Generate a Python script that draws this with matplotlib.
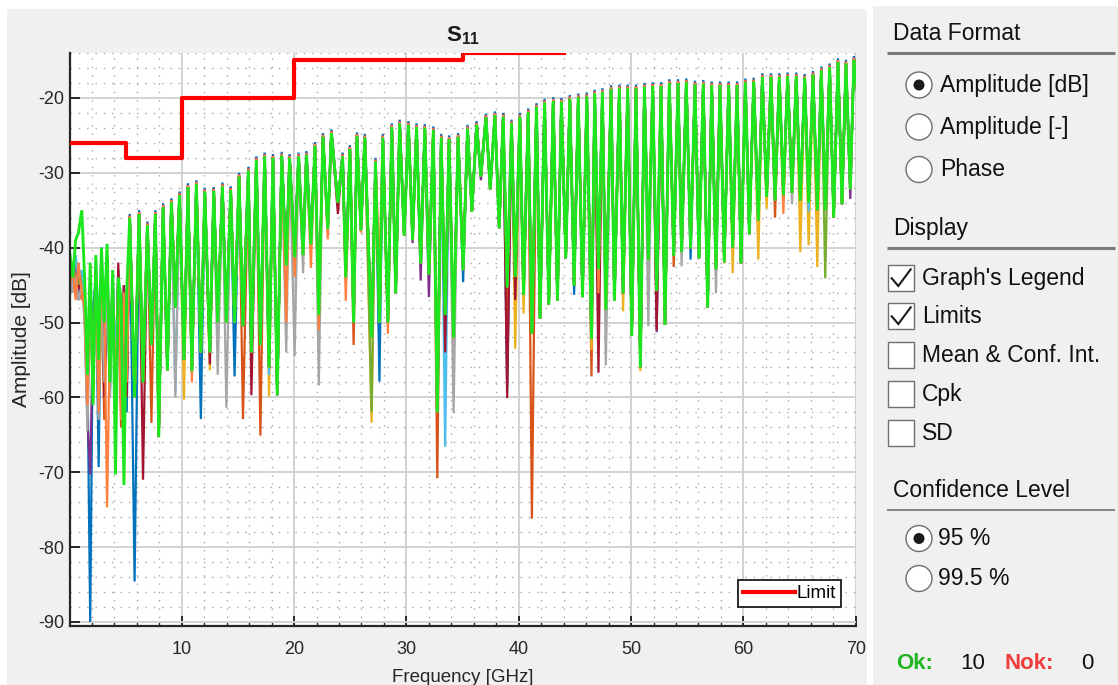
#!/usr/bin/env python3
"""
s11_amplitude.py - S11 amplitude sweep (10 samples) with limit mask and the display options panel
"""

import matplotlib
matplotlib.use('Agg')
import matplotlib.pyplot as plt
from matplotlib import font_manager
from matplotlib.lines import Line2D
from matplotlib.patches import Rectangle, Circle
from matplotlib.ticker import MultipleLocator
import numpy as np

# ---------------------------------------------------------------- data
# low band (below ~5 GHz) where the samples diverge, one list per sample
low_f = [0.05, 0.30, 0.55, 0.80, 1.10, 1.35, 1.60, 1.85, 2.10, 2.35, 2.60,
         2.85, 3.10, 3.35, 3.60, 3.85, 4.10, 4.35, 4.60, 4.85, 5.10]
low_blue = [-43, -46, -41, -47, -44, -47, -56, -90, -48, -44, -69.3,
            -40, -52, -41, -60, -44, -58, -43, -56, -48, -62]
low_orange = [-44, -42, -45, -44, -47, -45, -62, -47, -60, -43, -57,
              -46, -63, -47, -55, -45, -61, -46, -64, -47, -59]
low_yellow = [-42, -45, -43, -46, -45, -48, -58, -46, -55, -44, -59,
              -45, -56, -44, -53, -46, -57, -45, -60, -46, -55]
low_purple = [-43, -44, -42, -46, -44, -49, -63, -70.3, -50, -45, -60,
              -44, -58, -45, -56, -44, -59, -47, -57, -45, -58]
low_olive = [-42, -46, -44, -45, -43, -48, -57, -45, -58, -43, -54,
             -45, -57, -43, -59, -45, -55, -44, -61, -46, -57]
low_lightblue = [-42, -45, -41, -44, -43, -46, -54, -44, -57, -41.8, -50,
                 -41, -55, -42, -57, -43, -56, -44, -55, -45, -58]
low_darkred = [-44, -43, -46, -45, -46, -47, -60, -46, -57, -43, -58,
               -42, -60, -41, -56, -46, -62, -42, -58, -45, -60]
low_gray = [-43, -46, -44, -47, -45, -50, -64.5, -47, -60, -45, -63,
            -46, -58, -45, -60, -47, -57, -46, -59, -47, -56]
low_coral = [-45, -43, -47, -42, -46, -48, -61, -46, -58, -44, -62,
             -45, -46, -74.7, -52, -46, -60, -45, -63, -46, -58]
low_green = [-41, -44, -39, -38, -35, -44, -57, -42, -61, -41, -55,
             -40, -50, -39.5, -58, -43, -70.3, -44, -47, -71.7, -46]

# standing-wave ripple above 5 GHz: ripple maxima and the minima between them
peak_f = [5.37, 6.20, 6.94, 7.65, 8.34, 9.08, 9.80, 10.55, 11.30,
          12.05, 12.85, 13.62, 14.36, 15.10, 15.93, 16.64, 17.38, 18.12, 18.90,
          19.60, 20.40, 21.10, 21.86, 22.57, 23.32, 24.32, 24.97, 25.60, 26.30,
          27.25, 27.90, 28.70, 29.40, 30.18, 30.90, 31.64, 32.40, 33.10, 33.80,
          34.60, 35.44, 36.25, 37.08, 37.88, 38.62, 39.36, 40.10, 40.84, 41.58,
          42.30, 43.07, 43.80, 44.55, 45.30, 46.06, 46.76, 47.45, 48.22, 48.96,
          49.70, 50.44, 51.19, 51.93, 52.67, 53.41, 54.18, 54.92, 55.69, 56.43,
          57.18, 57.92, 58.69, 59.44, 60.18, 60.92, 61.69, 62.46, 63.20, 63.94,
          64.71, 65.46, 66.20, 66.94, 67.68, 68.42, 69.13, 69.84]
peak_db = [-36.0, -35.5, -37.0, -35.5, -34.6, -33.9, -33.0, -31.9, -31.5,
           -32.5, -32.4, -31.8, -32.3, -30.5, -29.7, -28.3, -27.8, -28.0, -27.7,
           -28.0, -27.8, -27.6, -26.4, -25.2, -24.7, -27.8, -26.8, -25.1, -25.3,
           -28.5, -25.3, -23.9, -23.4, -23.6, -23.9, -24.0, -24.3, -25.3, -25.5,
           -25.2, -24.1, -23.6, -22.6, -22.3, -22.5, -23.4, -22.5, -21.9, -21.2,
           -20.6, -20.4, -20.5, -20.1, -19.9, -19.8, -19.4, -19.2, -18.8, -18.7,
           -18.7, -18.7, -18.5, -18.4, -18.4, -18.0, -18.0, -17.9, -18.2, -18.1,
           -18.3, -18.3, -18.3, -18.3, -17.9, -17.8, -17.2, -17.2, -17.2, -17.1,
           -17.1, -17.3, -16.9, -16.3, -15.9, -15.2, -15.4, -14.9]
dip_f = [5.80, 6.55, 7.30, 7.95, 8.72, 9.43, 10.20, 10.90, 11.70,
         12.50, 13.20, 13.97, 14.70, 15.45, 16.20, 17.00, 17.77, 18.50, 19.30,
         20.05, 20.80, 21.50, 22.20, 23.00, 23.90, 24.60, 25.30, 25.95, 26.90,
         27.60, 28.35, 29.05, 29.80, 30.55, 31.27, 32.00, 32.75, 33.45, 34.20,
         35.05, 35.83, 36.63, 37.46, 38.26, 38.97, 39.69, 40.43, 41.17, 41.90,
         42.68, 43.45, 44.19, 44.93, 45.68, 46.48, 47.10, 47.75, 48.52, 49.29,
         50.06, 50.83, 51.54, 52.28, 53.02, 53.80, 54.50, 55.30, 56.05, 56.82,
         57.56, 58.30, 59.05, 59.79, 60.53, 61.33, 62.07, 62.82, 63.56, 64.33,
         65.07, 65.81, 66.58, 67.29, 68.04, 68.78, 69.52]
dip_db = [-60.0, -58.0, -53.0, -65.3, -56.4, -48.0, -55.0, -56.5, -54.0,
          -54.0, -50.0, -50.0, -50.0, -50.5, -54.0, -53.0, -56.0, -59.7, -42.4,
          -41.3, -41.0, -39.6, -49.0, -37.5, -34.0, -44.0, -50.0, -37.7, -52.0,
          -50.0, -50.0, -46.1, -38.4, -39.0, -42.1, -43.6, -62.0, -49.0, -52.0,
          -43.0, -35.2, -30.5, -32.2, -37.4, -45.3, -43.9, -46.3, -51.5, -49.5,
          -47.6, -47.1, -41.4, -45.1, -46.6, -52.2, -42.9, -48.3, -47.1, -46.1,
          -51.8, -56.0, -41.6, -45.8, -50.3, -41.1, -40.6, -40.1, -41.4, -48.0,
          -42.9, -41.9, -40.0, -42.1, -38.2, -36.4, -33.2, -33.7, -33.0, -32.7,
          -33.7, -34.0, -35.0, -35.0, -36.0, -34.2, -32.2]
end_f, end_db = 70.2, -20.0

# samples whose minima go deeper than the common curve
dips_blue = [(5.80, -84.6), (11.70, -62.9), (14.70, -57.2), (27.60, -57.9),
             (35.05, -44.6), (38.97, -59.0), (44.93, -46.3), (55.30, -41.6)]
dips_orange = [(7.30, -63.4), (15.45, -62.9), (17.00, -65.1), (25.30, -53.0),
               (32.75, -70.8), (34.20, -54.5), (38.97, -51.0), (41.17, -76.2),
               (46.48, -57.2), (53.80, -42.6), (62.82, -36.0)]
dips_yellow = [(10.20, -60.3), (12.50, -56.4), (17.77, -59.9), (26.90, -63.4),
               (39.69, -53.5), (40.43, -48.8), (46.48, -53.7), (49.29, -48.5),
               (50.83, -56.5), (59.05, -43.4), (61.33, -41.6), (62.07, -34.8),
               (65.07, -40.6), (65.81, -39.7), (66.58, -42.6)]
dips_purple = [(30.55, -39.4), (31.27, -44.4), (32.00, -46.6), (36.63, -31.0),
               (52.28, -51.3), (69.52, -33.5)]
dips_olive = [(26.90, -62.0), (58.30, -42.1), (67.29, -44.1)]
dips_lightblue = [(9.43, -59.4), (17.77, -57.0), (33.45, -66.6), (65.81, -35.2)]
dips_darkred = [(6.55, -71.0), (12.50, -55.6), (16.20, -59.7), (23.90, -35.5),
                (33.45, -54.0), (38.97, -60.1), (39.69, -47.0), (47.10, -56.7),
                (52.28, -51.0)]
dips_gray = [(9.43, -60.0), (13.20, -57.0), (13.97, -61.4), (19.30, -54.0),
             (20.05, -54.5), (20.80, -43.4), (22.20, -58.4), (34.20, -62.1),
             (47.75, -55.7), (51.54, -50.5), (54.50, -42.5), (57.56, -46.1),
             (64.33, -34.2)]
dips_coral = [(10.90, -58.0), (19.30, -50.0), (20.05, -43.9), (21.50, -42.7),
              (22.20, -51.0), (23.00, -38.9), (24.60, -47.1), (25.95, -38.0),
              (27.60, -43.0), (28.35, -51.5), (47.10, -46.1), (63.56, -35.5)]

# small offset of each sample's ripple maxima above the common curve [dB]
peak_lift = [0.5, 0.2, 0.15, 0.3, 0.0, 0.15, 0.15, 0.0, 0.25, 0.0]

# limit mask: band edges [GHz] and level per band [dB]
limit_edges = [0, 5, 10, 20, 35, 44]
limit_levels = [-26, -28, -20, -15, -14]

ok_count, nok_count = 10, 0

# ---------------------------------------------------------------- fonts
names = {f.name for f in font_manager.fontManager.ttflist}
SANS = 'Liberation Sans'
NARROW = 'Liberation Sans Narrow' if 'Liberation Sans Narrow' in names else None
plt.rcParams['font.family'] = [SANS, 'DejaVu Sans']
plt.rcParams['axes.unicode_minus'] = False
plt.rcParams['mathtext.fontset'] = 'custom'
plt.rcParams['mathtext.rm'] = (NARROW or SANS)
plt.rcParams['mathtext.bf'] = (NARROW or SANS) + ':bold'

PANEL = '#F0F0F0'
TRACE_COLORS = ['#0072BD', '#D95319', '#EDB120', '#7E2F8E', '#77AC30',
                '#4DBEEE', '#A2142F', '#A6A6A6', '#FF7F3F', '#1EE61E']

low_sets = [low_blue, low_orange, low_yellow, low_purple, low_olive,
            low_lightblue, low_darkred, low_gray, low_coral, low_green]
dip_sets = [dips_blue, dips_orange, dips_yellow, dips_purple, dips_olive,
            dips_lightblue, dips_darkred, dips_gray, dips_coral, []]


def build_trace(low_vals, deep, lift):
    dips = np.array(dip_db, dtype=float)
    for f0, d0 in deep:
        dips[np.argmin(np.abs(np.array(dip_f) - f0))] = d0
    f = list(low_f)
    db = list(low_vals)
    for i in range(len(peak_f)):
        f.append(peak_f[i])
        db.append(peak_db[i] + lift)
        if i < len(dip_f):
            f.append(dip_f[i])
            db.append(dips[i])
    f.append(end_f)
    db.append(end_db)
    return np.array(f), np.array(db)


W, H = 1118, 685
fig = plt.figure(figsize=(W / 100, H / 100), dpi=100, facecolor='white')

# background panel in pixel coordinates
pan = fig.add_axes([0, 0, 1, 1], zorder=0)
pan.set_xlim(0, W)
pan.set_ylim(H, 0)
pan.axis('off')
pan.add_patch(Rectangle((7, 9), 860, 690, facecolor=PANEL, edgecolor='none'))
pan.add_patch(Rectangle((873, 6), 260, 690, facecolor=PANEL, edgecolor='none'))

# ---------------------------------------------------------------- plot
x0, x1, y0, y1 = 70, 855.7, 53, 625.7
ax = fig.add_axes([x0 / W, 1 - y1 / H, (x1 - x0) / W, (y1 - y0) / H], zorder=1)
ax.set_facecolor('white')

for low_vals, deep, lift, col in zip(low_sets, dip_sets, peak_lift, TRACE_COLORS):
    f, db = build_trace(low_vals, deep, lift)
    lw = 2.1 if col == TRACE_COLORS[-1] else 1.6
    ax.plot(f, db, color=col, lw=lw, solid_joinstyle='miter')

ax.step(limit_edges, limit_levels + [limit_levels[-1]], where='post',
        color='#FF0000', lw=3.0, zorder=5)

ax.set_xlim(0.05, 70)
ax.set_ylim(-90.5, -14)
ax.set_xticks(range(10, 71, 10))
ax.set_yticks(range(-90, -19, 10))
ax.xaxis.set_minor_locator(MultipleLocator(2))
ax.yaxis.set_minor_locator(MultipleLocator(2))
ax.grid(which='major', color='#D2D2D2', lw=1.4)
ax.grid(which='minor', color='#A8A8A8', lw=1.0, linestyle=(0, (1, 5)))
ax.set_axisbelow(True)

for side in ('top', 'right'):
    ax.spines[side].set_visible(False)
for side in ('left', 'bottom'):
    ax.spines[side].set_color('#262626')
    ax.spines[side].set_linewidth(1.6)

ax.tick_params(which='major', direction='in', length=7, width=1.4, color='#262626',
               labelsize=13, labelcolor='#262626')
ax.tick_params(axis='x', which='major', pad=11)
ax.tick_params(axis='y', which='major', pad=4)
ax.tick_params(axis='x', which='minor', direction='in', length=3.5, width=1.0, color='#262626')
ax.tick_params(axis='y', which='minor', length=0)

ax.set_xlabel('Frequency [GHz]', fontsize=13.5, color='#262626', labelpad=8)
ax.set_ylabel('Amplitude [dB]', fontsize=15, color='#262626', labelpad=5)
ax.set_title(r'$\mathbf{S_{11}}$', fontsize=16, pad=8, color='#1a1a1a')

leg_size = 14.5 if NARROW else 13.5
leg_px = leg_size * 100 / 72
leg = ax.legend(handles=[Line2D([], [], color='#FF0000', lw=3.0)], labels=['Limit'],
                loc='lower right', bbox_to_anchor=(0.9813, 0.0327), borderaxespad=0,
                fancybox=False, framealpha=1, edgecolor='#1a1a1a',
                handlelength=52 / leg_px, handletextpad=0.12, borderpad=0.25,
                prop={'family': NARROW or SANS, 'size': leg_size})
leg.get_frame().set_linewidth(1.3)

# ---------------------------------------------------------------- options panel
TXT = dict(fontsize=16.5, color='#111111', va='center', ha='left')


def header(y_text, y_line, label, lw):
    pan.text(893, y_text, label, **TXT)
    pan.plot([887, 1115], [y_line, y_line], color='#7A7A7A', lw=lw, solid_capstyle='butt')


def radio(y, label, on, x_txt=940):
    pan.add_patch(Circle((919, y), 13, facecolor='white', edgecolor='#6E6E6E', lw=1.0))
    if on:
        pan.add_patch(Circle((919, y), 5.5, facecolor='#1A1A1A', edgecolor='none'))
    pan.text(x_txt, y, label, **TXT)


def checkbox(y, label, on):
    pan.add_patch(Rectangle((888, y - 13), 26, 26, facecolor='white', edgecolor='#707070', lw=1.0))
    if on:
        pan.plot([891.7, 898.3, 910.7], [y + 0.3, y + 8, y - 8.7], color='#1A1A1A',
                 lw=1.5, solid_joinstyle='miter')
    pan.text(922, y, label, **TXT)


header(33, 52.7, 'Data Format', 2.2)
radio(85, 'Amplitude [dB]', True)
radio(127, 'Amplitude [-]', False)
radio(169.5, 'Phase', False)

header(228, 248.3, 'Display', 2.2)
checkbox(278, "Graph's Legend", True)
checkbox(316, 'Limits', True)
checkbox(355, 'Mean & Conf. Int.', False)
checkbox(394, 'Cpk', False)
checkbox(433, 'SD', False)

header(490, 510, 'Confidence Level', 1.3)
radio(538.5, '95 %', True, x_txt=938)
radio(578.5, '99.5 %', False, x_txt=938)

pan.text(896, 663.5, 'Ok:', fontsize=16, fontweight='bold', color='#1FB51F', va='center')
pan.text(960, 663.5, str(ok_count), fontsize=16, color='#111111', va='center')
pan.text(1005, 663.5, 'Nok:', fontsize=16, fontweight='bold', color='#F03C3C', va='center')
pan.text(1081, 663.5, str(nok_count), fontsize=16, color='#111111', va='center')

fig.savefig('out.png', dpi=100, facecolor='white')
print('saved out.png')
